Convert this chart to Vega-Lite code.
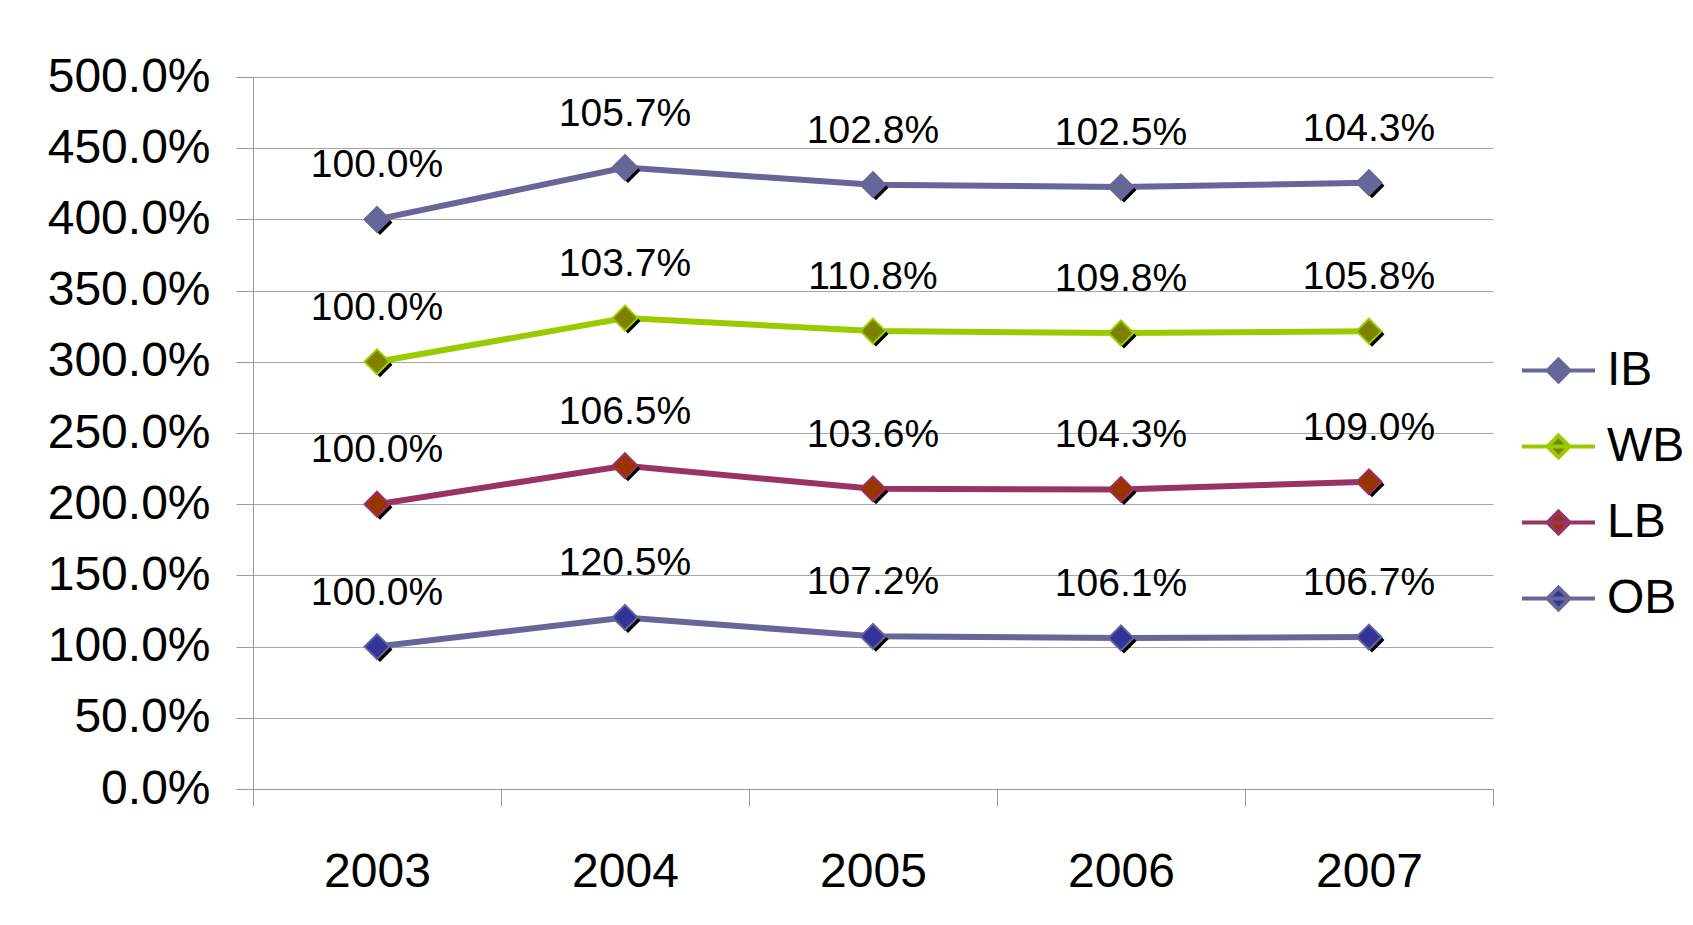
{
  "$schema": "https://vega.github.io/schema/vega-lite/v6.json",
  "width": 1240,
  "height": 712,
  "autosize": {"type": "none"},
  "padding": {"left": 253, "top": 77, "right": 200, "bottom": 136},
  "background": "white",
  "config": {"view": {"stroke": null}, "font": "Liberation Sans"},
  "data": {
    "values": [
      {"year": 2003, "series": "IB", "order": 4, "value": 1.000},
      {"year": 2004, "series": "IB", "order": 4, "value": 1.057},
      {"year": 2005, "series": "IB", "order": 4, "value": 1.028},
      {"year": 2006, "series": "IB", "order": 4, "value": 1.025},
      {"year": 2007, "series": "IB", "order": 4, "value": 1.043},
      {"year": 2003, "series": "WB", "order": 3, "value": 1.000},
      {"year": 2004, "series": "WB", "order": 3, "value": 1.037},
      {"year": 2005, "series": "WB", "order": 3, "value": 1.108},
      {"year": 2006, "series": "WB", "order": 3, "value": 1.098},
      {"year": 2007, "series": "WB", "order": 3, "value": 1.058},
      {"year": 2003, "series": "LB", "order": 2, "value": 1.000},
      {"year": 2004, "series": "LB", "order": 2, "value": 1.065},
      {"year": 2005, "series": "LB", "order": 2, "value": 1.036},
      {"year": 2006, "series": "LB", "order": 2, "value": 1.043},
      {"year": 2007, "series": "LB", "order": 2, "value": 1.090},
      {"year": 2003, "series": "OB", "order": 1, "value": 1.000},
      {"year": 2004, "series": "OB", "order": 1, "value": 1.205},
      {"year": 2005, "series": "OB", "order": 1, "value": 1.072},
      {"year": 2006, "series": "OB", "order": 1, "value": 1.061},
      {"year": 2007, "series": "OB", "order": 1, "value": 1.067}
    ]
  },
  "transform": [
    {"stack": "value", "groupby": ["year"], "sort": [{"field": "order", "order": "ascending"}], "as": ["y0", "y1"]}
  ],
  "encoding": {
    "x": {
      "field": "year", "type": "quantitative",
      "scale": {"domain": [2002.5, 2007.5], "nice": false, "zero": false},
      "axis": {
        "title": null,
        "values": [2002.5, 2003.5, 2004.5, 2005.5, 2006.5, 2007.5],
        "labelExpr": "datum.value < 2007 ? format(datum.value + 0.5, 'd') : ''",
        "labelOffset": 124,
        "labelFontSize": 48,
        "labelFont": "Liberation Sans",
        "labelColor": "black",
        "labelPadding": 42,
        "labelFlush": false,
        "labelOverlap": false,
        "labelBound": false,
        "tickSize": 17,
        "tickColor": "#999999",
        "domainColor": "#999999",
        "grid": false
      }
    },
    "y": {
      "field": "y1", "type": "quantitative",
      "scale": {"domain": [0, 5], "nice": false},
      "axis": {
        "title": null,
        "values": [0, 0.5, 1, 1.5, 2, 2.5, 3, 3.5, 4, 4.5, 5],
        "format": ".1%",
        "labelFontSize": 48,
        "labelFont": "Liberation Sans",
        "labelColor": "black",
        "labelPadding": 26,
        "tickSize": 17,
        "tickColor": "#999999",
        "domainColor": "#999999",
        "grid": true,
        "gridColor": "#a6a6a6"
      }
    }
  },
  "layer": [
    {
      "mark": {"type": "line", "strokeWidth": 6},
      "encoding": {
        "color": {
          "field": "series", "type": "nominal",
          "scale": {"domain": ["OB", "LB", "WB", "IB"], "range": ["#666699", "#993366", "#99CC00", "#666699"]},
          "legend": null
        },
        "detail": {"field": "series"}
      }
    },
    {
      "mark": {"type": "point", "shape": "diamond", "filled": true, "size": 625, "color": "black", "opacity": 1, "xOffset": 3, "yOffset": 3}
    },
    {
      "mark": {"type": "point", "shape": "diamond", "filled": true, "size": 625, "strokeWidth": 2, "opacity": 1},
      "encoding": {
        "fill": {
          "field": "series", "type": "nominal",
          "scale": {"domain": ["IB", "WB", "LB", "OB"], "range": ["#666699", "#808000", "#993300", "#333399"]},
          "legend": {
            "title": null, "orient": "none", "legendX": 1267, "legendY": 255, "padding": 0,
            "symbolType": "M-1,0L1,0M0,-0.3L0.3,0L0,0.3L-0.3,0Z",
            "symbolSize": 5329, "symbolStrokeWidth": 4,
            "labelFontSize": 48, "labelFont": "Liberation Sans", "labelColor": "black", "labelOffset": 10, "rowPadding": 13
          }
        },
        "stroke": {
          "field": "series", "type": "nominal",
          "scale": {"domain": ["IB", "WB", "LB", "OB"], "range": ["#666699", "#99CC00", "#993366", "#666699"]},
          "legend": {
            "title": null, "orient": "none", "legendX": 1267, "legendY": 255, "padding": 0,
            "symbolType": "M-1,0L1,0M0,-0.3L0.3,0L0,0.3L-0.3,0Z",
            "symbolSize": 5329, "symbolStrokeWidth": 4,
            "labelFontSize": 48, "labelFont": "Liberation Sans", "labelColor": "black", "labelOffset": 10, "rowPadding": 13
          }
        }
      }
    },
    {
      "mark": {"type": "text", "fontSize": 39, "font": "Liberation Sans", "dy": -42, "baseline": "alphabetic", "align": "center", "color": "black"},
      "encoding": {"text": {"field": "value", "type": "quantitative", "format": ".1%"}}
    }
  ]
}
